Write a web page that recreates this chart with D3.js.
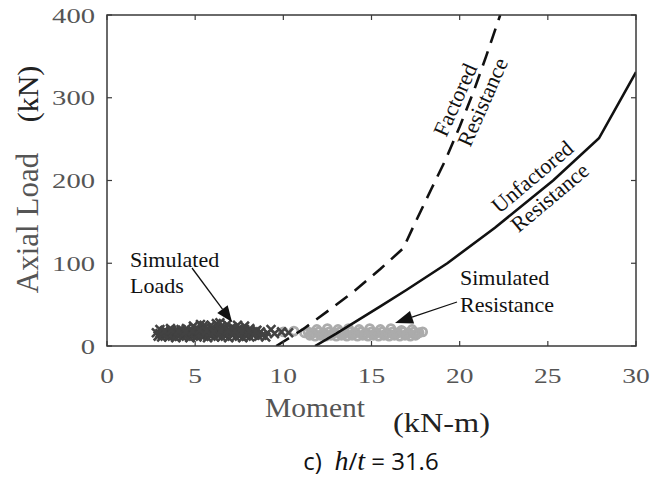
<!DOCTYPE html>
<html>
<head>
<meta charset="utf-8">
<script src="https://cdn.jsdelivr.net/npm/d3@7/dist/d3.min.js"></script>
<style>
body { margin: 0; background: #fff; }
</style>
</head>
<body>
<div id="chart"></div>
<script>

// tick values
var xTicks = [0, 5, 10, 15, 20, 25, 30];
var yTicks = [0, 100, 200, 300, 400];

// unfactored resistance (solid)
var unfactoredM = [11.8, 13, 15.5, 17, 19.3, 22, 25.3, 27.9, 30];
var unfactoredP = [0, 15, 48, 68, 100, 143, 200, 251, 331];

// factored resistance (dashed)
var factoredM = [9.6, 11.1, 12.7, 14, 15.5, 16.8, 17.5, 18.4, 19.2, 20.0, 20.8, 21.5, 22.3];
var factoredP = [0, 20, 45, 66, 93, 118, 150, 190, 225, 265, 308, 350, 400];

// simulated loads (dark x)
var loadM = [2.9, 3.1, 3.3, 3.5, 3.7, 3.9, 4.1, 4.3, 4.5, 4.7, 4.9, 5.1, 5.3, 5.5, 5.7, 5.9, 6.1, 6.3, 6.5, 6.7,
             6.9, 7.1, 7.3, 7.5, 7.7, 7.9, 8.1, 8.3, 8.6, 9.0,
             2.8, 3.0, 3.2, 3.4, 3.6, 3.8, 4.0, 4.2, 4.4, 4.6, 4.8, 5.0, 5.2, 5.4, 5.6, 5.8, 6.0, 6.2, 6.4, 6.6,
             6.8, 7.0, 7.2, 7.4, 7.6, 7.8, 8.0, 8.2, 8.4, 8.7, 9.1, 9.5, 9.9, 10.3,
             3.0, 3.3, 3.6, 3.9, 4.2, 4.5, 4.8, 5.1, 5.4, 5.7, 6.0, 6.3, 6.6, 6.9, 7.2, 7.5, 7.8, 8.1, 8.5, 9.3,
             4.9, 5.3, 5.6, 5.9, 6.2, 6.5, 6.8, 7.1, 7.4, 7.8, 6.4, 5.5,
             3.15, 3.55, 3.95, 4.35, 4.75, 5.15, 5.55, 5.95, 6.35, 6.75, 7.15, 7.55, 7.95, 8.35, 8.8,
             3.25, 3.65, 4.05, 4.45, 4.85, 5.25, 5.65, 6.05, 6.45, 6.85, 7.25, 7.65, 8.05, 8.45];
var loadP = [12, 11, 13, 11, 12, 10, 12, 11, 13, 10, 12, 11, 13, 12, 10, 12, 11, 13, 11, 12,
             10, 13, 11, 12, 10, 12, 11, 13, 12, 11,
             16, 15, 17, 16, 15, 17, 16, 15, 17, 16, 15, 17, 16, 15, 17, 16, 15, 17, 16, 15,
             17, 16, 15, 17, 16, 15, 17, 16, 15, 17, 16, 15, 17, 16,
             20, 19, 21, 19, 20, 21, 19, 20, 21, 19, 20, 21, 19, 20, 21, 19, 20, 21, 19, 20,
             24, 26, 23, 25, 27, 24, 26, 23, 25, 24, 28, 25,
             14, 13, 14, 15, 13, 14, 15, 14, 13, 14, 15, 13, 14, 14, 13,
             18, 19, 18, 17, 18, 19, 18, 17, 18, 19, 18, 17, 18, 18];

// simulated resistance (light o)
var resM = [11.5, 11.8, 12.1, 12.4, 12.7, 13.0, 13.3, 13.6, 13.9, 14.2, 14.5, 14.8, 15.1, 15.4, 15.7, 16.0,
            16.3, 16.6, 16.9, 17.2, 17.5,
            10.0, 10.6, 11.2, 11.4, 11.7, 12.0, 12.3, 12.6, 12.9, 13.2, 13.5, 13.8, 14.1, 14.4, 14.7, 15.0,
            15.3, 15.6, 15.9, 16.2, 16.5, 16.8, 17.1, 17.4, 17.7, 17.9,
            11.9, 12.5, 13.1, 13.7, 14.3, 14.9, 15.5, 16.1, 16.7, 17.3,
            11.6, 12.2, 12.8, 13.4, 14.0, 14.6, 15.2, 15.8, 16.4, 17.0, 17.6];
var resP = [13, 12, 13, 12, 13, 12, 13, 12, 13, 12, 13, 12, 13, 12, 13, 12,
            13, 12, 13, 12, 13,
            17, 18, 16, 17, 16, 17, 16, 17, 16, 17, 16, 17, 16, 17, 16, 17,
            16, 17, 16, 17, 16, 17, 16, 17, 16, 17,
            20, 21, 20, 21, 20, 21, 20, 21, 19, 20,
            15, 14, 15, 14, 15, 14, 15, 14, 15, 14, 15];

var width = 653, height = 480;
var plotLeft = 107, plotRight = 636, plotTop = 15, plotBottom = 346;

var svg = d3.select("#chart").append("svg")
            .attr("width", width)
            .attr("height", height)
            .style("background", "#fff");

var x = d3.scaleLinear().domain([0, 30]).range([plotLeft, plotRight]);
var y = d3.scaleLinear().domain([0, 400]).range([plotBottom, plotTop]);

var serif = "'Liberation Serif', 'Times New Roman', serif";
var axisColor = "#3a3a3a";
var labelGrey = "#555";

// scatter first, lines on top
var loads = loadM.map(function(m, i) { return {m: m, p: loadP[i]}; });
var res = resM.map(function(m, i) { return {m: m, p: resP[i]}; });

svg.append("g").selectAll("circle")
   .data(res)
   .enter()
   .append("circle")
   .attr("cx", function(d) { return x(d.m); })
   .attr("cy", function(d) { return y(d.p); })
   .attr("r", 4)
   .attr("fill", "none")
   .attr("stroke", "#ababab")
   .attr("stroke-width", 2.8);

var s = 4.4;
svg.append("g").selectAll("path")
   .data(loads)
   .enter()
   .append("path")
   .attr("transform", function(d) { return "translate(" + x(d.m) + "," + y(d.p) + ")"; })
   .attr("d", "M" + (-s) + "," + (-s) + "L" + s + "," + s + "M" + (-s) + "," + s + "L" + s + "," + (-s))
   .attr("stroke", "#424242")
   .attr("stroke-width", 2.6)
   .attr("fill", "none");

// resistance curves, clipped to the box
svg.append("clipPath").attr("id", "plotclip")
   .append("rect").attr("x", plotLeft).attr("y", plotTop)
   .attr("width", plotRight - plotLeft).attr("height", plotBottom - plotTop);

var line = d3.line()
             .x(function(d) { return x(d[0]); })
             .y(function(d) { return y(d[1]); });

svg.append("path")
   .datum(unfactoredM.map(function(m, i) { return [m, unfactoredP[i]]; }))
   .attr("d", line)
   .attr("fill", "none")
   .attr("stroke", "#111")
   .attr("stroke-width", 2.6)
   .attr("clip-path", "url(#plotclip)");

svg.append("path")
   .datum(factoredM.map(function(m, i) { return [m, factoredP[i]]; }))
   .attr("d", line)
   .attr("fill", "none")
   .attr("stroke", "#111")
   .attr("stroke-width", 2.6)
   .attr("stroke-dasharray", "15,9")
   .attr("clip-path", "url(#plotclip)");

// box with inward ticks on all four sides
svg.append("rect")
   .attr("x", plotLeft).attr("y", plotTop)
   .attr("width", plotRight - plotLeft).attr("height", plotBottom - plotTop)
   .attr("fill", "none")
   .attr("stroke", axisColor)
   .attr("stroke-width", 1.5);

var tickLen = 5;
var tg = svg.append("g").attr("stroke", axisColor).attr("stroke-width", 1.2);
xTicks.forEach(function(t) {
  tg.append("line").attr("x1", x(t)).attr("x2", x(t)).attr("y1", plotBottom).attr("y2", plotBottom - tickLen);
  tg.append("line").attr("x1", x(t)).attr("x2", x(t)).attr("y1", plotTop).attr("y2", plotTop + tickLen);
});
yTicks.forEach(function(t) {
  tg.append("line").attr("x1", plotLeft).attr("x2", plotLeft + tickLen).attr("y1", y(t)).attr("y2", y(t));
  tg.append("line").attr("x1", plotRight).attr("x2", plotRight - tickLen).attr("y1", y(t)).attr("y2", y(t));
});

// tick labels (horizontally stretched like the original)
svg.append("g").selectAll("text")
   .data(xTicks)
   .enter()
   .append("text")
   .attr("transform", function(d) { return "translate(" + x(d) + ",383) scale(1.25,1)"; })
   .attr("text-anchor", "middle")
   .style("font-family", serif)
   .style("font-size", "22px")
   .attr("fill", labelGrey)
   .text(function(d) { return d; });

svg.append("g").selectAll("text")
   .data(yTicks)
   .enter()
   .append("text")
   .attr("transform", function(d) { return "translate(95," + (y(d) + 7.5) + ") scale(1.3,1)"; })
   .attr("text-anchor", "end")
   .style("font-family", serif)
   .style("font-size", "22px")
   .attr("fill", labelGrey)
   .text(function(d) { return d; });

// axis titles
svg.append("text")
   .attr("transform", "translate(38,223) rotate(-90)")
   .attr("text-anchor", "middle")
   .style("font-family", serif)
   .style("font-size", "31px")
   .attr("fill", labelGrey)
   .text("Axial Load");

svg.append("text")
   .attr("transform", "translate(38,94) rotate(-90)")
   .attr("text-anchor", "middle")
   .style("font-family", serif)
   .style("font-size", "30px")
   .attr("fill", "#222")
   .text("(kN)");

svg.append("text")
   .attr("x", 265).attr("y", 417)
   .attr("textLength", 100)
   .attr("lengthAdjust", "spacingAndGlyphs")
   .style("font-family", serif)
   .style("font-size", "27px")
   .attr("fill", labelGrey)
   .text("Moment");

svg.append("text")
   .attr("x", 393).attr("y", 432)
   .attr("textLength", 97)
   .attr("lengthAdjust", "spacingAndGlyphs")
   .style("font-family", serif)
   .style("font-size", "27px")
   .attr("fill", "#222")
   .text("(kN-m)");

// caption
var cap = svg.append("text")
   .attr("x", 371).attr("y", 470)
   .attr("text-anchor", "middle")
   .style("white-space", "pre")
   .style("font-family", "'Open Sans', 'Liberation Sans', sans-serif")
   .style("font-size", "24px")
   .attr("fill", "#111");
cap.append("tspan").text("c)  ");
cap.append("tspan").style("font-family", serif).style("font-style", "italic").style("font-size", "28px").text("h");
cap.append("tspan").text("/");
cap.append("tspan").style("font-family", serif).style("font-style", "italic").style("font-size", "28px").text("t");
cap.append("tspan").text(" = 31.6");

// annotations
var ann = svg.append("g")
             .style("font-family", serif)
             .style("font-size", "22px")
             .attr("fill", "#111");

ann.append("text").attr("x", 130).attr("y", 267).text("Simulated");
ann.append("text").attr("x", 130).attr("y", 293).text("Loads");
ann.append("text").attr("x", 460).attr("y", 285).text("Simulated");
ann.append("text").attr("x", 460).attr("y", 312).text("Resistance");

var fac = ann.append("g").attr("transform", "translate(467,105) rotate(-66)");
fac.append("text").attr("x", 0).attr("y", -5.5).attr("text-anchor", "middle").text("Factored");
fac.append("text").attr("x", 9).attr("y", 20.5).attr("text-anchor", "middle").text("Resistance");

var unf = ann.append("g").attr("transform", "translate(541,187) rotate(-40)");
unf.append("text").attr("x", 0).attr("y", -6).attr("text-anchor", "middle").text("Unfactored");
unf.append("text").attr("x", 0).attr("y", 21).attr("text-anchor", "middle").text("Resistance");

function arrow(x1, y1, x2, y2, headLen, headW) {
  var a = Math.atan2(y2 - y1, x2 - x1);
  var bx = x2 - headLen * Math.cos(a), by = y2 - headLen * Math.sin(a);
  var px = -Math.sin(a) * headW / 2, py = Math.cos(a) * headW / 2;
  svg.append("line")
     .attr("x1", x1).attr("y1", y1).attr("x2", bx).attr("y2", by)
     .attr("stroke", "#111").attr("stroke-width", 1.3);
  svg.append("path")
     .attr("d", "M" + x2 + "," + y2 + "L" + (bx + px) + "," + (by + py) + "L" + (bx - px) + "," + (by - py) + "Z")
     .attr("fill", "#111");
}
arrow(192, 268, 232, 322, 16, 13);
arrow(457, 302, 395, 323, 18, 13);

</script>
</body>
</html>
